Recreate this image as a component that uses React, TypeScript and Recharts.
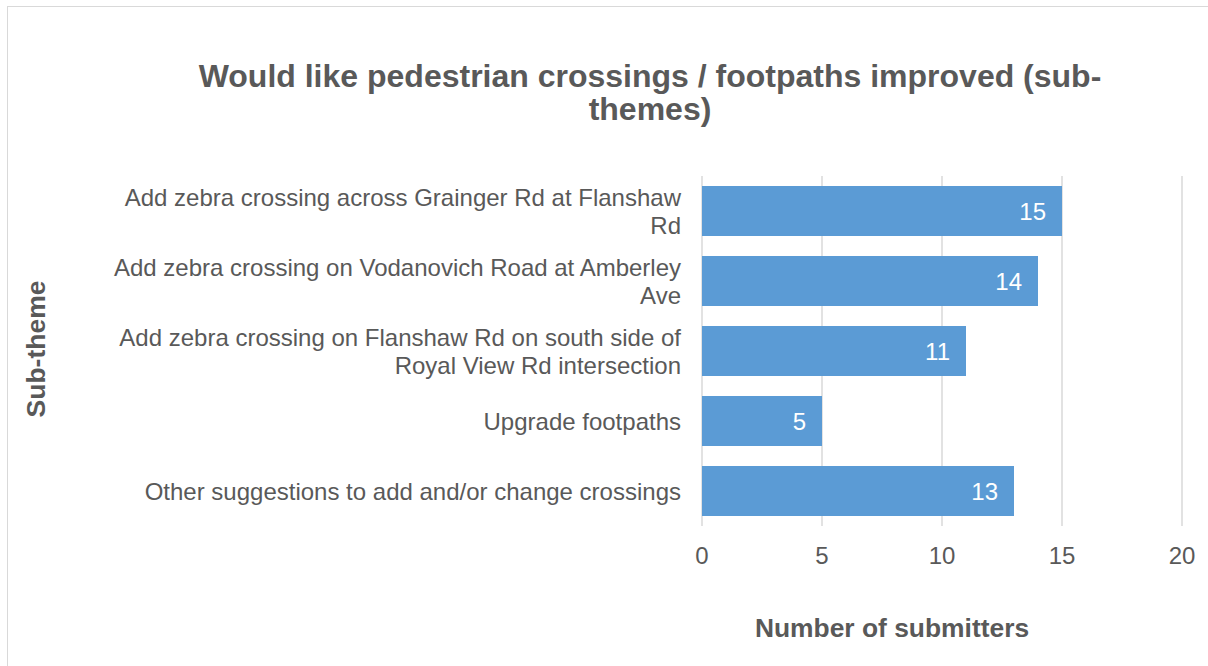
import React from 'react';
import { BarChart, Bar, XAxis, YAxis, CartesianGrid, LabelList } from 'recharts';

const FONT = '"Liberation Sans", Arial, Helvetica, sans-serif';
const TEXT = '#595959';

const categories = [
  'Add zebra crossing across Grainger Rd at Flanshaw\nRd',
  'Add zebra crossing on Vodanovich Road at Amberley\nAve',
  'Add zebra crossing on Flanshaw Rd on south side of\nRoyal View Rd intersection',
  'Upgrade footpaths',
  'Other suggestions to add and/or change crossings',
];
const submitters = [15, 14, 11, 5, 13];
const xTicks = [0, 5, 10, 15, 20];
const titleLines = ['Would like pedestrian crossings / footpaths improved (sub-', 'themes)'];
const xAxisTitle = 'Number of submitters';
const yAxisTitle = 'Sub-theme';

const data = categories.map((c, i) => ({ category: c, value: submitters[i] }));

const YTick = (props: any) => {
  const { x, y, payload } = props;
  const lines = String(payload.value).split('\n');
  const lh = 28;
  const start = y - ((lines.length - 1) * lh) / 2;
  return (
    <text x={x} y={start} textAnchor="end" fill={TEXT} fontSize={24} fontFamily={FONT}>
      {lines.map((l, i) => (
        <tspan key={i} x={x} y={start + i * lh} dy="0.355em">
          {l}
        </tspan>
      ))}
    </text>
  );
};

export default function App() {
  return (
    <div style={{ position: 'absolute', left: 0, top: 0, width: 1208, height: 666, overflow: 'hidden', background: '#fff' }}>
      <div style={{ position: 'absolute', left: 7, top: 6, width: 1230, height: 700, border: '1.5px solid #d9d9d9', boxSizing: 'border-box' }} />
      <div style={{ position: 'absolute', left: 0, top: 0 }}>
        <BarChart
          width={1208}
          height={666}
          data={data}
          layout="vertical"
          margin={{ top: 176, right: 26, bottom: 100, left: 12 }}
          barSize={50}
        >
          <CartesianGrid horizontal={false} stroke="#d9d9d9" strokeWidth={1.5} />
          <XAxis
            type="number"
            domain={[0, 20]}
            ticks={xTicks}
            interval={0}
            tickLine={false}
            axisLine={false}
            tickSize={0}
            tickMargin={21}
            height={40}
            tick={{ fill: TEXT, fontSize: 24, fontFamily: FONT }}
          />
          <YAxis
            type="category"
            dataKey="category"
            width={690}
            interval={0}
            tickLine={false}
            axisLine={false}
            tickSize={0}
            tickMargin={21}
            tick={<YTick />}
          />
          <Bar dataKey="value" fill="#5B9BD5" isAnimationActive={false}>
            <LabelList dataKey="value" position="insideRight" offset={16} fill="#ffffff" fontSize={24} fontFamily={FONT} />
          </Bar>
        </BarChart>
      </div>
      <svg width={1208} height={666} style={{ position: 'absolute', left: 0, top: 0, pointerEvents: 'none' }}>
        {titleLines.map((t, i) => (
          <text key={i} x={650} y={76 + i * 33} dy="0.355em" textAnchor="middle" fill={TEXT} fontSize={32} fontWeight="bold" fontFamily={FONT}>
            {t}
          </text>
        ))}
        <text x={892} y={628} dy="0.355em" textAnchor="middle" fill={TEXT} fontSize={26.4} fontWeight="bold" fontFamily={FONT}>
          {xAxisTitle}
        </text>
        <text x={36} y={349} dy="0.355em" textAnchor="middle" fill={TEXT} fontSize={26.5} fontWeight="bold" fontFamily={FONT} transform="rotate(-90 36 349)">
          {yAxisTitle}
        </text>
      </svg>
    </div>
  );
}
